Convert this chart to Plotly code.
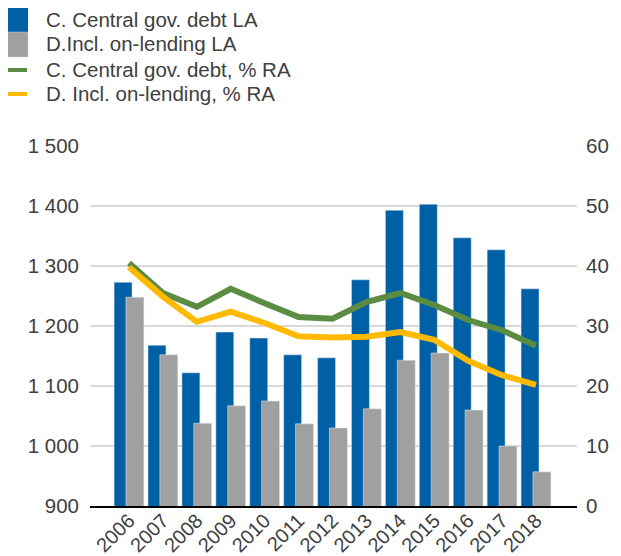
import plotly.graph_objects as go

years = ['2006', '2007', '2008', '2009', '2010', '2011', '2012',
         '2013', '2014', '2015', '2016', '2017', '2018']
central_debt_la = [1273, 1168, 1122, 1190, 1180, 1152, 1147, 1277, 1393, 1403, 1347, 1327, 1262]
incl_onlending_la = [1248, 1152, 1038, 1067, 1075, 1037, 1030, 1062, 1143, 1155, 1060, 1000, 957]
central_debt_pct = [40.5, 35.5, 33.2, 36.2, 33.8, 31.5, 31.2, 34.0, 35.5, 33.5, 31.0, 29.3, 26.7]
incl_onlending_pct = [39.8, 34.9, 30.7, 32.4, 30.5, 28.3, 28.1, 28.2, 29.0, 27.7, 24.2, 21.8, 20.2]
left_ticks = [900, 1000, 1100, 1200, 1300, 1400, 1500]
left_ticktext = ['900', '1 000', '1 100', '1 200', '1 300', '1 400', '1 500']
right_ticks = [0, 10, 20, 30, 40, 50, 60]

names = ['C. Central gov. debt LA', 'D.Incl. on-lending LA',
         'C. Central gov. debt, % RA', 'D. Incl. on-lending, % RA']

BLUE = '#0060A6'
GRAY = '#A0A0A0'
GREEN = '#5A8C42'
YELLOW = '#FFBA00'
TEXT = '#404040'
FONT = 'Liberation Sans, Arial, sans-serif'
FS = 20.5

# page body has an 8px margin; compensate so the plot lands where it should
OFF = 8
W, H = 621, 556
PL, PT, PW, PH = 90, 146, 487, 360          # plot area in screenshot pixels
ML, MT = PL - OFF, PT - OFF
MR, MB = W - ML - PW, H - MT - PH

pos = list(range(len(years)))
bw = 0.53

fig = go.Figure()
fig.add_trace(go.Bar(x=pos, y=central_debt_la, name=names[0], marker_color=BLUE,
                     width=bw, offset=-0.44, showlegend=False))
fig.add_trace(go.Bar(x=pos, y=incl_onlending_la, name=names[1], marker_color=GRAY,
                     width=bw, offset=-0.09, showlegend=False))
fig.add_trace(go.Scatter(x=pos, y=central_debt_pct, name=names[2], yaxis='y2',
                         mode='lines', line=dict(color=GREEN, width=6), showlegend=False))
fig.add_trace(go.Scatter(x=pos, y=incl_onlending_pct, name=names[3], yaxis='y2',
                         mode='lines', line=dict(color=YELLOW, width=6), showlegend=False))


def px_x(p):
    return (p - PL) / PW


def px_y(p):
    return (PT + PH - p) / PH


shapes = [
    dict(type='rect', xref='paper', yref='paper', x0=px_x(3), x1=px_x(28), y0=px_y(7), y1=px_y(32),
         fillcolor=BLUE, line=dict(width=0)),
    dict(type='rect', xref='paper', yref='paper', x0=px_x(3), x1=px_x(28), y0=px_y(32), y1=px_y(57),
         fillcolor=GRAY, line=dict(width=0.5, color='#C8C8C8')),
    dict(type='line', xref='paper', yref='paper', x0=px_x(3), x1=px_x(27), y0=px_y(70), y1=px_y(70),
         line=dict(color=GREEN, width=4)),
    dict(type='line', xref='paper', yref='paper', x0=px_x(3), x1=px_x(27), y0=px_y(94), y1=px_y(94),
         line=dict(color=YELLOW, width=4)),
]
annotations = []
for name, yy in zip(names, [20, 44, 69, 93]):
    annotations.append(dict(text=name, xref='paper', yref='paper', x=px_x(44), y=px_y(yy),
                            xanchor='left', yanchor='middle', showarrow=False,
                            font=dict(size=FS, color=TEXT, family=FONT)))

fig.update_layout(
    width=W, height=H,
    margin=dict(l=ML, r=MR, t=MT, b=MB, autoexpand=False),
    paper_bgcolor='white', plot_bgcolor='white',
    barmode='overlay',
    font=dict(family=FONT, size=FS, color=TEXT),
    shapes=shapes, annotations=annotations,
    showlegend=False,
    xaxis=dict(range=[-1.15, 13.21], tickvals=pos, ticktext=years, tickangle=-45,
               showgrid=False, zeroline=False, showline=True, linecolor='black', linewidth=2,
               ticks='', automargin=False, ticklabelstandoff=-7,
               tickfont=dict(size=20, color=TEXT)),
    yaxis=dict(range=[900, 1500], tickvals=left_ticks, ticktext=left_ticktext,
               showgrid=True, gridcolor='#D9D9D9', gridwidth=2, zeroline=False,
               showline=False, ticks='', ticklabelstandoff=10, automargin=False,
               tickfont=dict(size=FS, color=TEXT)),
    yaxis2=dict(range=[0, 60], tickvals=right_ticks, overlaying='y', side='right',
                showgrid=False, zeroline=False, showline=False, ticks='', automargin=False,
                ticklabelstandoff=8, tickfont=dict(size=FS, color=TEXT)),
)

fig.write_html('out.html')
